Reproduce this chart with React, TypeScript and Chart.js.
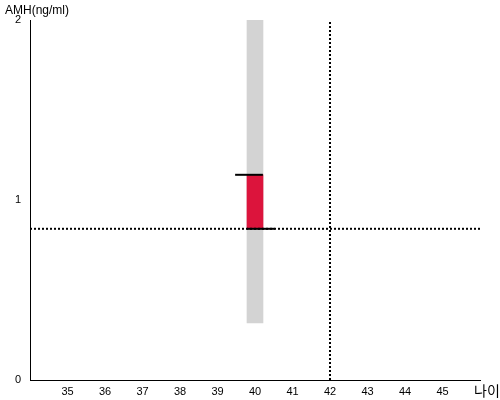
import React, { useEffect, useRef } from "react";
import { Chart, registerables } from "chart.js";

Chart.register(...registerables);

// Data
const xTicks = [35, 36, 37, 38, 39, 40, 41, 42, 43, 44, 45];
const yTicks = [0, 1, 2];
const xRange = [34, 46];
const yRange = [0, 2];
const rangeBand = { x: 40, low: 0.317, high: 2 }; // gray band
const valueBar = { x: 40, low: 0.84, high: 1.14 }; // red bar
const topLineX = [39.47, 40.21];
const bottomLineX = [39.79, 40.53];
const refAge = 42;
const refAmh = 0.84;
const yTitle = "AMH(ng/ml)";
const xTitle = "나이";

export default function App() {
  const ref = useRef<HTMLCanvasElement | null>(null);
  useEffect(() => {
    if (!ref.current) return;
    const chart = new Chart(ref.current, {
      type: "bar",
      data: {
        datasets: [
          {
            type: "line",
            data: [
              { x: xRange[0], y: refAmh },
              { x: xRange[1], y: refAmh },
            ],
            borderColor: "#000",
            borderWidth: 2,
            borderDash: [2, 2],
            pointRadius: 0,
            order: 0,
          } as any,
          {
            type: "line",
            data: [
              { x: refAge, y: yRange[0] },
              { x: refAge, y: yRange[1] },
            ],
            borderColor: "#000",
            borderWidth: 2,
            borderDash: [2, 2],
            pointRadius: 0,
            order: 0,
          } as any,
          {
            type: "line",
            data: [
              { x: topLineX[0], y: valueBar.high },
              { x: topLineX[1], y: valueBar.high },
            ],
            borderColor: "#000",
            borderWidth: 2,
            pointRadius: 0,
            order: 1,
          } as any,
          {
            type: "line",
            data: [
              { x: bottomLineX[0], y: valueBar.low },
              { x: bottomLineX[1], y: valueBar.low },
            ],
            borderColor: "#000",
            borderWidth: 2,
            pointRadius: 0,
            order: 1,
          } as any,
          {
            type: "bar",
            data: [{ x: valueBar.x, y: [valueBar.low, valueBar.high] }],
            backgroundColor: "#dc143c",
            barThickness: 16,
            grouped: false,
            order: 2,
          } as any,
          {
            type: "bar",
            data: [{ x: rangeBand.x, y: [rangeBand.low, rangeBand.high] }],
            backgroundColor: "#d3d3d3",
            barThickness: 16,
            grouped: false,
            order: 3,
          } as any,
        ],
      },
      options: {
        animation: false,
        responsive: false,
        maintainAspectRatio: false,
        layout: { padding: { top: 20, right: 20, left: 0, bottom: 0 } },
        plugins: { legend: { display: false }, tooltip: { enabled: false } },
        scales: {
          x: {
            type: "linear",
            offset: false,
            min: xRange[0],
            max: xRange[1],
            afterBuildTicks: (s: any) => {
              s.ticks = xTicks.map((v) => ({ value: v }));
            },
            afterFit: (s: any) => {
              s.height = 20;
            },
            grid: { display: false, drawTicks: false, offset: false },
            border: { display: true, color: "#000", width: 1 },
            ticks: {
              color: "#000",
              padding: 5,
              font: { family: "Arial, 'Liberation Sans'", size: 11 },
              maxRotation: 0,
            },
          },
          y: {
            type: "linear",
            min: yRange[0],
            max: yRange[1],
            afterBuildTicks: (s: any) => {
              s.ticks = yTicks.map((v) => ({ value: v }));
            },
            afterFit: (s: any) => {
              s.width = 30;
            },
            grid: { display: false, drawTicks: false },
            border: { display: true, color: "#000", width: 1 },
            ticks: {
              color: "#000",
              padding: 9,
              font: { family: "Arial, 'Liberation Sans'", size: 11 },
            },
          },
        },
      } as any,
    });
    return () => chart.destroy();
  }, []);

  return (
    <div style={{ position: "fixed", left: 0, top: 0, width: 500, height: 400, background: "#fff" }}>
      <canvas ref={ref} width={500} height={400} style={{ width: 500, height: 400 }} />
      <div
        style={{
          position: "absolute",
          left: 5,
          top: 3,
          font: "12px Arial, 'Liberation Sans'",
          color: "#000",
          lineHeight: "14px",
        }}
      >
        {yTitle}
      </div>
      <div
        style={{
          position: "absolute",
          left: 474,
          top: 382,
          font: "14px 'Noto Sans CJK KR'",
          color: "#000",
          lineHeight: "16px",
        }}
      >
        {xTitle}
      </div>
    </div>
  );
}
